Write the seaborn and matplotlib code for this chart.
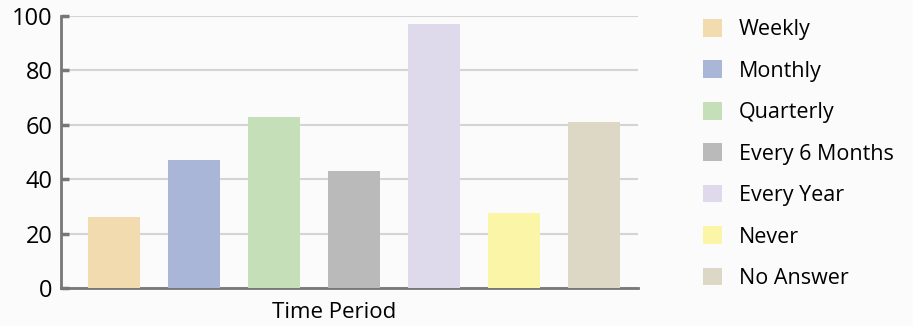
import matplotlib
matplotlib.use("Agg")
import matplotlib.pyplot as plt
from matplotlib.patches import Patch
import seaborn as sns
import pandas as pd

categories = ["Weekly", "Monthly", "Quarterly", "Every 6 Months", "Every Year", "Never", "No Answer"]
values = [26, 47, 63, 43, 97, 27.5, 61]
colors = ["#F2DCAF", "#A9B6D7", "#C5E0B8", "#BABABA", "#DEDAEC", "#FBF5A8", "#DDD7C5"]
yticks = [0, 20, 40, 60, 80, 100]
xlabel = "Time Period"

sns.set_theme(style="white")
plt.rcParams["font.family"] = ["Open Sans", "DejaVu Sans"]

df = pd.DataFrame({"cat": categories, "val": values})

fig = plt.figure(figsize=(9.13, 3.26), dpi=100, facecolor="#FBFBFB")
ax = fig.add_axes([61/913, 1-288/326, (638-61)/913, (288-16)/326])
ax.set_facecolor("#FBFBFB")

sns.barplot(data=df, x="cat", y="val", hue="cat", palette=colors, order=categories,
            hue_order=categories, saturation=1, width=0.65, linewidth=0,
            legend=False, ax=ax, zorder=3)

ax.set_xlim(-0.6625, 6.55)
ax.set_ylim(0, 100)
ax.set_yticks(yticks)
ax.set_yticklabels([str(t) for t in yticks], fontsize=17, color="#000000")
ax.set_xticks([])
ax.set_ylabel("")
ax.set_xlabel(xlabel, fontsize=16, color="#000000")
ax.xaxis.set_label_coords(0.473, -0.05)

ax.grid(axis="y", color="#D4D4D4", linewidth=1.5, zorder=0)
ax.set_axisbelow(True)
for s in ["top", "right"]:
    ax.spines[s].set_visible(False)
for s in ["left", "bottom"]:
    ax.spines[s].set_color("#777777")
    ax.spines[s].set_linewidth(2)
ax.tick_params(axis="y", direction="in", length=6, width=2.5, color="#777777", pad=6, left=True)

handles = [Patch(facecolor=c, edgecolor="none") for c in colors]
fig.legend(handles, categories, loc="upper left", bbox_to_anchor=(703/913, 1-19/326),
           frameon=False, fontsize=15.5, handlelength=0.88, handleheight=0.88,
           handletextpad=0.8, labelspacing=0.94, borderpad=0, borderaxespad=0,
           labelcolor="#000000")

fig.savefig("out.png", dpi=100, facecolor=fig.get_facecolor())
